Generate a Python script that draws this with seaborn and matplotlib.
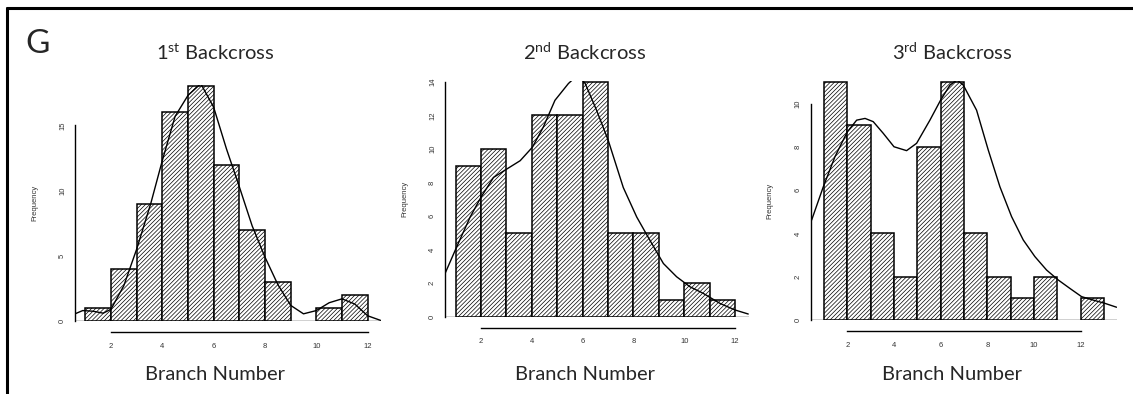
import matplotlib
matplotlib.use("Agg")
import matplotlib.pyplot as plt
import seaborn as sns
import numpy as np
import pandas as pd
from matplotlib.lines import Line2D

# --- histogram data (integer breaks), counts ---
edges_1 = [1, 2, 3, 4, 5, 6, 7, 8, 9, 10, 11, 12]
counts_1 = [1, 4, 9, 16, 18, 12, 7, 3, 0, 1, 2]

edges_2 = [1, 2, 3, 4, 5, 6, 7, 8, 9, 10, 11, 12]
counts_2 = [9, 10, 5, 12, 12, 14, 5, 5, 1, 2, 1]

edges_3 = [1, 2, 3, 4, 5, 6, 7, 8, 9, 10, 11, 12, 13]
counts_3 = [11, 9, 4, 2, 8, 11, 4, 2, 1, 2, 0, 1]

# --- density curves (frequency scale) ---
curve_x_1 = [0.6, 0.9, 1.3, 1.7, 2.0, 2.5, 3.0, 3.55, 4.0, 4.5, 5.0, 5.5,
             6.0, 6.5, 7.0, 7.5, 8.0, 8.5, 9.0, 9.5, 10.0, 10.5, 11.0, 11.5,
             12.0, 12.5]
curve_y_1 = [0.55, 0.8, 0.75, 0.6, 0.9, 2.7, 5.5, 9.0, 12.3, 15.7, 17.3, 18.2,
             16.4, 13.2, 10.3, 7.3, 4.9, 2.8, 1.2, 0.55, 0.8, 1.4, 1.7, 1.3,
             0.4, 0.05]

curve_x_2 = [0.58, 1.04, 1.57, 2.0, 2.49, 3.01, 3.54, 4.02, 4.45, 4.91, 5.44,
             5.8, 6.1, 6.55, 7.01, 7.6, 8.13, 8.65, 9.18, 9.7, 10.23, 10.75,
             11.41, 12.0, 12.52]
curve_y_2 = [2.57, 4.16, 5.94, 7.13, 8.3, 8.8, 9.3, 10.1, 11.3, 12.9, 13.9,
             14.4, 13.9, 12.3, 10.5, 7.7, 5.94, 4.55, 3.17, 2.38, 1.78, 1.39,
             0.79, 0.4, 0.16]

curve_x_3 = [0.47, 0.97, 1.47, 2.0, 2.4, 2.76, 3.11, 3.54, 4.0, 4.54, 4.97,
             5.54, 6.0, 6.4, 6.7, 6.97, 7.54, 8.04, 8.54, 9.04, 9.54, 10.04,
             10.54, 11.04, 11.54, 12.04, 12.54, 13.04, 13.54]
curve_y_3 = [4.62, 6.16, 7.55, 8.7, 9.24, 9.32, 9.17, 8.63, 8.01, 7.83, 8.17,
             9.24, 10.17, 10.86, 11.1, 10.86, 9.7, 7.86, 6.16, 4.78, 3.7, 2.93,
             2.31, 1.85, 1.46, 1.08, 0.92, 0.77, 0.59]

titles = ["1", "2", "3"]
title_sups = ["st", "nd", "rd"]
y_spans = [15, 14, 10]
y_tops = [18.1, 14.05, 11.05]
x_limits = [(0.6, 12.5), (0.58, 12.55), (0.43, 13.55)]

sns.set_style("white")
plt.rcParams["font.family"] = ["Liberation Sans", "DejaVu Sans"]
plt.rcParams["mathtext.fontset"] = "custom"
plt.rcParams["mathtext.rm"] = "Lato"
plt.rcParams["hatch.linewidth"] = 0.5

W, H = 1133, 394
fig = plt.figure(figsize=(W / 100, H / 100), dpi=100)

# axes boxes in pixels: left, top, right, bottom
boxes = [(75, 85, 380.5, 321), (445, 81, 749, 316.7), (810.7, 81, 1116.8, 320)]
title_cx = [215, 585, 952]

panels = [(edges_1, counts_1, curve_x_1, curve_y_1),
          (edges_2, counts_2, curve_x_2, curve_y_2),
          (edges_3, counts_3, curve_x_3, curve_y_3)]

for i, (edges, counts, cx, cy) in enumerate(panels):
    l, t, r, b = boxes[i]
    ax = fig.add_axes([l / W, 1 - b / H, (r - l) / W, (b - t) / H])
    df = pd.DataFrame({"branch": np.array(edges[:-1]) + 0.5, "n": counts})
    sns.histplot(data=df, x="branch", weights="n", bins=edges, ax=ax,
                 color="white", edgecolor="black", linewidth=1.1,
                 alpha=1, hatch="////////")
    for p in ax.patches:
        if p.get_height() == 0:
            p.set_visible(False)
    ax.axhline(0, color="#c8c8c8", lw=1.2, zorder=0)
    sns.lineplot(x=cx, y=cy, ax=ax, color="black", lw=1.0)

    ax.set_xlim(*x_limits[i])
    ax.set_ylim(0, y_tops[i])
    ax.set_xticks(range(2, 13, 2))
    step = 5 if y_spans[i] == 15 else 2
    ax.set_yticks(range(0, y_spans[i] + 1, step))
    for s in ["top", "right"]:
        ax.spines[s].set_visible(False)
    ax.spines["left"].set_bounds(0, y_spans[i])
    ax.spines["bottom"].set_bounds(2, 12)
    ax.spines["bottom"].set_position(("outward", 8))
    for s in ["left", "bottom"]:
        ax.spines[s].set_color("black")
        ax.spines[s].set_linewidth(1.0)
    ax.tick_params(axis="both", direction="out", length=3.5, width=1,
                   colors="black", labelsize=5.5, labelcolor="#333333", pad=3)
    ax.tick_params(axis="x", pad=4)
    for lab in ax.get_yticklabels():
        lab.set_rotation(90)
        lab.set_va("center")
    ax.set_xlabel("")
    ax.set_ylabel("Frequency", fontsize=5.5, color="#333333")
    ax.yaxis.set_label_coords(-37 / (r - l), 0.5)

    fig.text(title_cx[i] / W, 1 - 59.5 / H,
             titles[i] + r"$^{\mathrm{" + title_sups[i] + "}}$ Backcross",
             ha="center", va="baseline", fontsize=14.5, family="Lato")
    fig.text(title_cx[i] / W, 1 - 380 / H, "Branch Number",
             ha="center", va="baseline", fontsize=14.5, family="Lato")

fig.text(25 / W, 1 - 53 / H, "G", ha="left", va="baseline",
         fontsize=24, family="Lato")

# panel frame (top and left edges only are visible)
fig.add_artist(Line2D([7 / W, 1], [1 - 8 / H, 1 - 8 / H], color="black", lw=2.2))
fig.add_artist(Line2D([7 / W, 7 / W], [0, 1 - 8 / H], color="black", lw=2.2))

fig.savefig("out.png", dpi=100)
